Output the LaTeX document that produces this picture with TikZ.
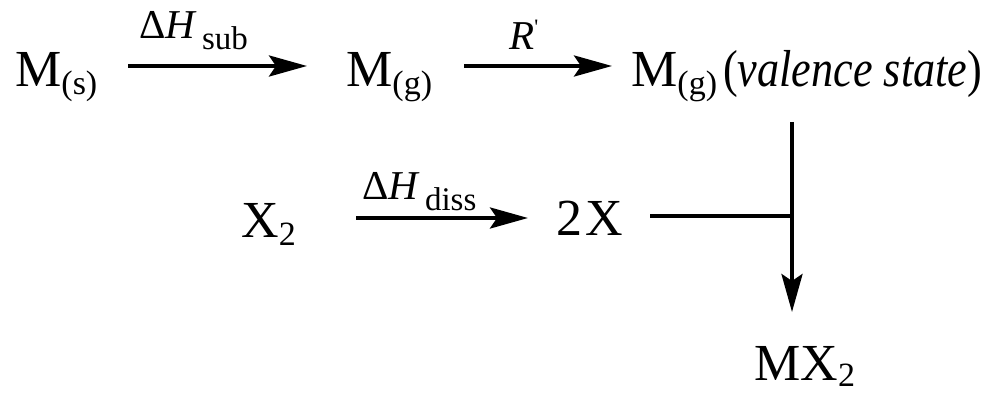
\documentclass[tikz,border=0pt]{standalone}
\usepackage{fontspec}
\setmainfont{Liberation Serif}[ItalicFont={Liberation Serif Italic}]
\newfontfamily\rawserif[Ligatures=ResetAll]{Liberation Serif}
\usetikzlibrary{arrows.meta}
\newcommand\chemsub[2][8pt]{\raisebox{-#1}{\fontsize{34}{34}\selectfont #2}}
\newcommand\labsub[1]{\raisebox{-11pt}{\fontsize{33}{33}\selectfont #1}}
\tikzset{
  chem/.style={inner sep=0pt, anchor=base west, font=\fontsize{52}{60}\selectfont},
  lab/.style={inner sep=0pt, anchor=base west, font=\fontsize{41}{48}\selectfont},
  arr/.style={line width=4pt, -{Stealth[length=38pt,width=21pt,inset=7pt]}},
  ln/.style={line width=4pt}
}
\begin{document}
\begin{tikzpicture}[x=1pt,y=-1pt]
\useasboundingbox (0,0) rectangle (995,395);
% species
\node[chem] (ms)  at (15,87)  {M\chemsub{(s)}};
\node[chem] (mg)  at (346,87) {M\chemsub{(g)}};
\node[chem] (mv)  at (631,87) {M\chemsub{(g)}\hspace{6pt}\scalebox{0.85}[1]{(\textit{valence state})}};
\node[chem] (x2)  at (241,238) {X\chemsub{2}};
\node[chem] (twox) at (556,236) {2\hspace{3pt}X};
\node[chem] (mx2) at (754,380) {MX\chemsub[6pt]{2}};
% labels
\node[lab] (lsub)  at (139,39)  {Δ\textit{H}\hspace{5pt}\labsub{sub}};
\node[lab] (lr)    at (509,50)  {\textit{R}\raisebox{15pt}{\rawserif\fontsize{22}{22}\selectfont '}};
\node[lab] (ldiss) at (362,200) {Δ\textit{H}\hspace{5pt}\labsub{diss}};
% connector points
\coordinate (a1s) at (128,66);
\coordinate (a1e) at (307,66);
\coordinate (a2s) at (464,66);
\coordinate (a2e) at (612,66);
\coordinate (a3s) at (356,218);
\coordinate (a3e) at (528,218);
\coordinate (hs)  at (650,216);
\coordinate (vj)  at (792,216);
\coordinate (vs)  at (792,122);
\coordinate (ve)  at (792,312);
% connectors
\draw[arr] (a1s) -- (a1e);
\draw[arr] (a2s) -- (a2e);
\draw[arr] (a3s) -- (a3e);
\draw[ln]  (hs) -- (vj);
\draw[arr] (vs) -- (ve);
\end{tikzpicture}
\end{document}
